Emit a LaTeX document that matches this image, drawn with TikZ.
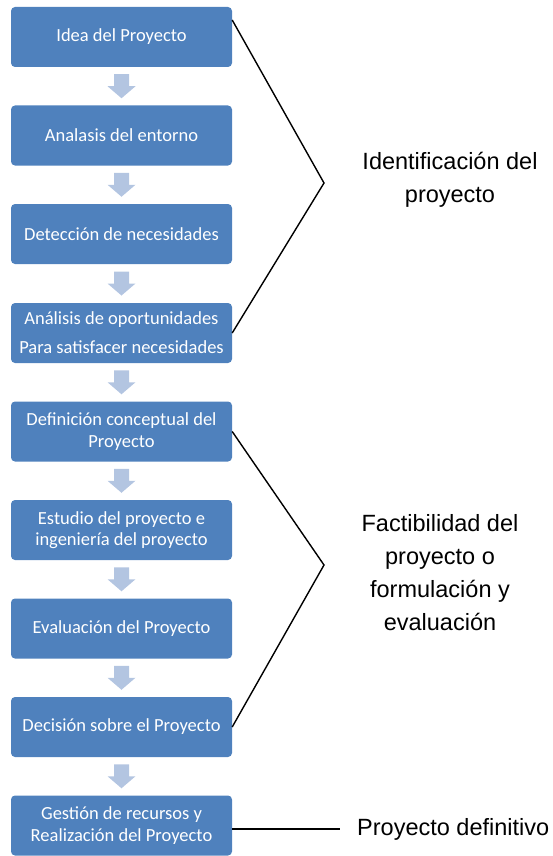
\documentclass[tikz,border=0pt]{standalone}
\usepackage{fontspec}
\setmainfont{Carlito}
\newfontfamily\arialf{Liberation Sans}
\usetikzlibrary{calc}
\definecolor{boxblue}{HTML}{4F81BD}
\definecolor{arrowblue}{HTML}{B3C5E1}
\begin{document}
\begin{tikzpicture}[x=1pt,y=-1pt,
  procbox/.style={fill=boxblue, rounded corners=4pt, minimum width=221pt, minimum height=60pt,
    text=white, align=center, font=\fontsize{18.5}{21.5}\selectfont, inner sep=0pt},
  sidelabel/.style={font=\arialf\fontsize{23.5}{33}\selectfont, align=center, text=black, inner sep=0pt},
  bracket/.style={black, line width=1.4pt},
  downarr/.pic={\fill[arrowblue] (-7.5,-12) -- (7.5,-12) -- (7.5,0) -- (14,0) -- (0,12) -- (-14,0) -- (-7.5,0) -- cycle;}]
\useasboundingbox (0,0) rectangle (552,856);
\node[procbox] (b1) at (121.5,37) {Idea del Proyecto};
\node[procbox] (b2) at (121.5,135.5) {Analasis del entorno};
\node[procbox] (b3) at (121.5,234) {Detección de necesidades};
\node[procbox, font=\fontsize{18.5}{29}\selectfont] (b4) at (121.5,333) {Análisis de oportunidades\\Para satisfacer necesidades};
\node[procbox] (b5) at (121.5,431.5) {Definición conceptual del\\Proyecto};
\node[procbox] (b6) at (121.5,530) {Estudio del proyecto e\\ingeniería del proyecto};
\node[procbox] (b7) at (121.5,628.5) {Evaluación del Proyecto};
\node[procbox] (b8) at (121.5,727) {Decisión sobre el Proyecto};
\node[procbox] (b9) at (121.5,825.5) {Gestión de recursos y\\Realización del Proyecto};
\foreach \a/\b in {b1/b2,b2/b3,b3/b4,b4/b5,b5/b6,b6/b7,b7/b8,b8/b9}
  \pic at ($(\a.south)!0.5!(\b.north)$) {downarr};
\coordinate (apex1) at (324,183);
\coordinate (apex2) at (324,565);
\draw[bracket] ([yshift=17pt]b1.east) -- (apex1) -- (b4.east);
\draw[bracket] (b5.east) -- (apex2) -- (b8.east);
\node[sidelabel] (l1) at (450,179.5) {Identificación del\\proyecto};
\node[sidelabel] (l2) at (440,572.5) {Factibilidad del\\proyecto o\\formulación y\\evaluación};
\node[sidelabel, anchor=west] (l3) at (357,829) {Proyecto definitivo};
\coordinate (e3) at (340,829);
\draw[bracket] ([yshift=-3.5pt]b9.east) -- (e3);
\end{tikzpicture}
\end{document}
